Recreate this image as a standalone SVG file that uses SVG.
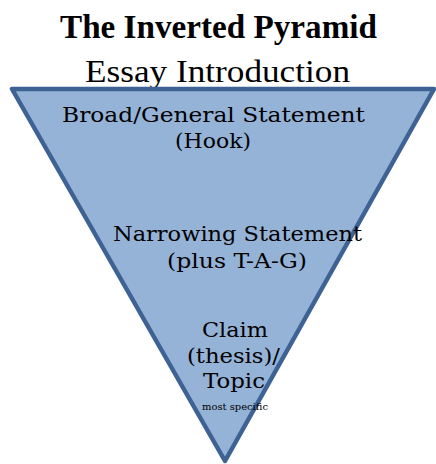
<svg xmlns="http://www.w3.org/2000/svg" width="436" height="464" viewBox="0 0 436 464">
<style>
.t{font-family:"Liberation Serif","Times New Roman",serif;fill:#000;text-anchor:middle}
.b{font-family:"DejaVu Serif","Liberation Serif",serif;fill:#000;text-anchor:middle;font-size:21px}
.s{font-family:"DejaVu Serif","Liberation Serif",serif;fill:#000;text-anchor:middle;font-size:9px}
</style>
<rect width="436" height="464" fill="#fff"/>
<g id="title">
<text class="t" x="218.5" y="38" font-size="33" font-weight="bold" textLength="317" lengthAdjust="spacingAndGlyphs">The Inverted Pyramid</text>
<text class="t" x="217.5" y="82" font-size="32" textLength="265" lengthAdjust="spacingAndGlyphs">Essay Introduction</text>
</g>
<g id="pyramid">
<polygon points="12,89 434,89 225,461" fill="#95B3D7" stroke="#3E6294" stroke-width="4.5" stroke-linejoin="round"/>
</g>
<g id="levels">
<text class="b" x="213.5" y="122" textLength="303" lengthAdjust="spacingAndGlyphs">Broad/General Statement</text>
<text class="b" x="213" y="148" textLength="76" lengthAdjust="spacingAndGlyphs">(Hook)</text>
<text class="b" x="237.5" y="241" textLength="249" lengthAdjust="spacingAndGlyphs">Narrowing Statement</text>
<text class="b" x="237" y="268" textLength="140" lengthAdjust="spacingAndGlyphs">(plus T-A-G)</text>
<text class="b" x="235" y="337" textLength="66" lengthAdjust="spacingAndGlyphs">Claim</text>
<text class="b" x="233.5" y="363" textLength="93" lengthAdjust="spacingAndGlyphs">(thesis)/</text>
<text class="b" x="234" y="388" textLength="62" lengthAdjust="spacingAndGlyphs">Topic</text>
<text class="s" x="235" y="410" textLength="66" lengthAdjust="spacingAndGlyphs">most specific</text>
</g>
</svg>
